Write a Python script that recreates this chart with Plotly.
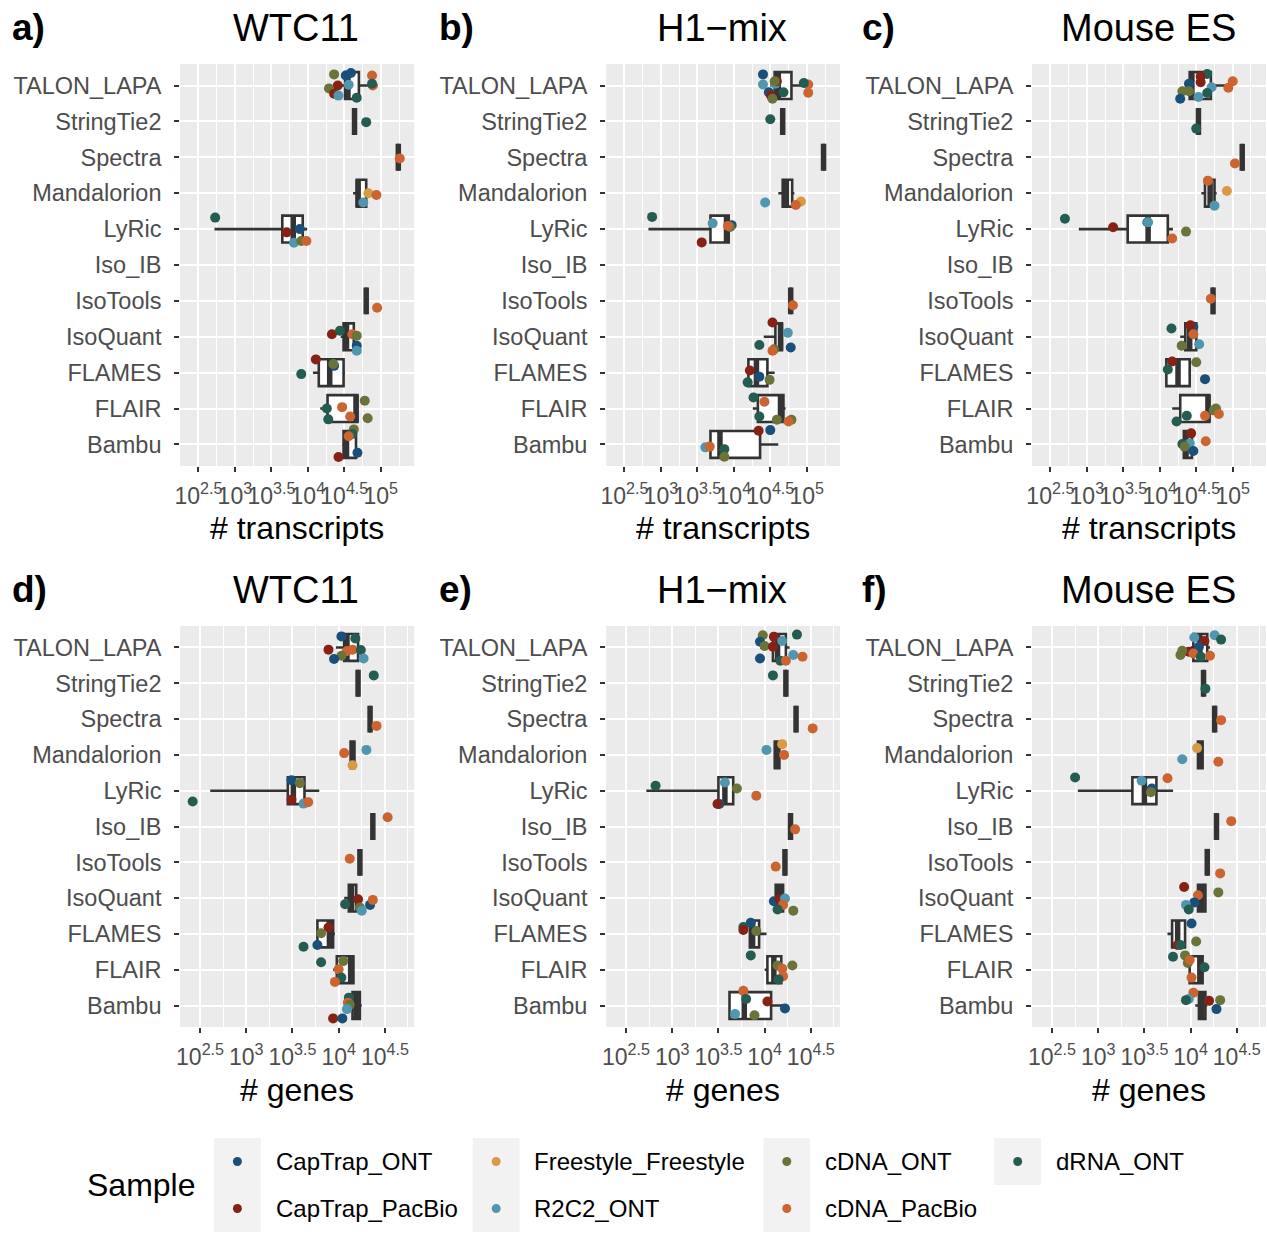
import plotly.graph_objects as go

# Methods from bottom (position 1) to top (position 11)
METHODS = ["Bambu", "FLAIR", "FLAMES", "IsoQuant", "IsoTools", "Iso_IB",
           "LyRic", "Mandalorion", "Spectra", "StringTie2", "TALON_LAPA"]

SAMPLES = ["CapTrap_ONT", "CapTrap_PacBio", "Freestyle_Freestyle", "R2C2_ONT",
           "cDNA_ONT", "cDNA_PacBio", "dRNA_ONT"]
SAMPLE_COLORS = ["#1A4F7A", "#852215", "#D89A45", "#5096AE",
                 "#6A7339", "#CB6430", "#245C52"]

# ---------------------------------------------------------------- WTC11, transcripts
wtc11_tx = [  # (method, sample, log10 # transcripts)
    ("TALON_LAPA", "cDNA_ONT", 4.36), ("TALON_LAPA", "CapTrap_ONT", 4.52),
    ("TALON_LAPA", "CapTrap_ONT", 4.59), ("TALON_LAPA", "cDNA_PacBio", 4.88),
    ("TALON_LAPA", "CapTrap_PacBio", 4.41), ("TALON_LAPA", "cDNA_ONT", 4.29),
    ("TALON_LAPA", "CapTrap_PacBio", 4.36), ("TALON_LAPA", "R2C2_ONT", 4.42),
    ("TALON_LAPA", "R2C2_ONT", 4.56), ("TALON_LAPA", "dRNA_ONT", 4.67),
    ("TALON_LAPA", "cDNA_PacBio", 4.89), ("TALON_LAPA", "dRNA_ONT", 4.88),
    ("StringTie2", "dRNA_ONT", 4.80),
    ("Spectra", "cDNA_PacBio", 5.26),
    ("Mandalorion", "Freestyle_Freestyle", 4.83), ("Mandalorion", "cDNA_PacBio", 4.94),
    ("Mandalorion", "R2C2_ONT", 4.76),
    ("LyRic", "dRNA_ONT", 2.73), ("LyRic", "CapTrap_PacBio", 3.71),
    ("LyRic", "CapTrap_ONT", 3.89), ("LyRic", "R2C2_ONT", 3.81),
    ("LyRic", "cDNA_ONT", 3.91), ("LyRic", "cDNA_PacBio", 3.98),
    ("IsoTools", "cDNA_PacBio", 4.95),
    ("IsoQuant", "CapTrap_PacBio", 4.33), ("IsoQuant", "dRNA_ONT", 4.44),
    ("IsoQuant", "cDNA_PacBio", 4.61), ("IsoQuant", "cDNA_ONT", 4.67),
    ("IsoQuant", "CapTrap_ONT", 4.67), ("IsoQuant", "R2C2_ONT", 4.67),
    ("FLAMES", "CapTrap_PacBio", 4.11), ("FLAMES", "CapTrap_ONT", 4.36),
    ("FLAMES", "cDNA_ONT", 4.35), ("FLAMES", "dRNA_ONT", 3.91),
    ("FLAIR", "cDNA_ONT", 4.78), ("FLAIR", "dRNA_ONT", 4.26),
    ("FLAIR", "cDNA_PacBio", 4.47), ("FLAIR", "cDNA_PacBio", 4.58),
    ("FLAIR", "dRNA_ONT", 4.28), ("FLAIR", "cDNA_ONT", 4.82),
    ("Bambu", "cDNA_ONT", 4.63), ("Bambu", "dRNA_ONT", 4.61),
    ("Bambu", "cDNA_PacBio", 4.56), ("Bambu", "CapTrap_ONT", 4.68),
    ("Bambu", "CapTrap_PacBio", 4.42),
]
wtc11_tx_jitter = [0.31, 0.28, 0.35, 0.28, 0.0, -0.08, -0.23, -0.28, 0.02, -0.34, 0.0, 0.05,
                   -0.02,
                   -0.03,
                   0.0, -0.05, -0.26,
                   0.32, -0.09, 0.0, -0.38, -0.33, -0.33,
                   -0.19,
                   0.07, 0.17, 0.07, 0.03, -0.25, -0.39,
                   0.37, 0.19, 0.24, -0.04,
                   0.22, 0.0, 0.04, -0.22, -0.30, -0.27,
                   0.42, 0.29, 0.23, -0.23, -0.35]
wtc11_tx_box = [  # (method, lower whisker, q1, median, q3, upper whisker), log10
    ("TALON_LAPA", 4.40, 4.51, 4.55, 4.70, 4.96),
    ("StringTie2", 4.64, 4.64, 4.64, 4.64, 4.64),
    ("Spectra", 5.24, 5.24, 5.24, 5.24, 5.24),
    ("Mandalorion", 4.62, 4.67, 4.69, 4.80, 4.80),
    ("LyRic", 2.72, 3.65, 3.80, 3.93, 3.99),
    ("IsoTools", 4.80, 4.80, 4.80, 4.80, 4.80),
    ("IsoQuant", 4.45, 4.49, 4.53, 4.63, 4.66),
    ("FLAMES", 4.07, 4.15, 4.30, 4.49, 4.51),
    ("FLAIR", 4.17, 4.27, 4.66, 4.68, 4.68),
    ("Bambu", 4.47, 4.49, 4.53, 4.66, 4.66),
]

# ---------------------------------------------------------------- H1-mix, transcripts
h1_tx = [
    ("TALON_LAPA", "CapTrap_ONT", 4.40), ("TALON_LAPA", "R2C2_ONT", 4.40),
    ("TALON_LAPA", "R2C2_ONT", 4.57), ("TALON_LAPA", "CapTrap_PacBio", 4.59),
    ("TALON_LAPA", "cDNA_ONT", 4.56), ("TALON_LAPA", "CapTrap_ONT", 4.48),
    ("TALON_LAPA", "CapTrap_PacBio", 4.51), ("TALON_LAPA", "cDNA_ONT", 4.53),
    ("TALON_LAPA", "dRNA_ONT", 4.68), ("TALON_LAPA", "cDNA_PacBio", 5.02),
    ("TALON_LAPA", "dRNA_ONT", 4.96), ("TALON_LAPA", "cDNA_PacBio", 5.02),
    ("StringTie2", "dRNA_ONT", 4.50),
    ("Mandalorion", "R2C2_ONT", 4.43), ("Mandalorion", "Freestyle_Freestyle", 4.92),
    ("Mandalorion", "cDNA_PacBio", 4.85),
    ("LyRic", "dRNA_ONT", 2.88), ("LyRic", "R2C2_ONT", 3.71),
    ("LyRic", "CapTrap_ONT", 3.97), ("LyRic", "cDNA_ONT", 3.95),
    ("LyRic", "cDNA_PacBio", 3.92), ("LyRic", "CapTrap_PacBio", 3.56),
    ("IsoTools", "cDNA_PacBio", 4.81),
    ("IsoQuant", "CapTrap_PacBio", 4.53), ("IsoQuant", "R2C2_ONT", 4.74),
    ("IsoQuant", "dRNA_ONT", 4.35), ("IsoQuant", "CapTrap_ONT", 4.78),
    ("IsoQuant", "cDNA_ONT", 4.55), ("IsoQuant", "cDNA_PacBio", 4.53),
    ("FLAMES", "CapTrap_PacBio", 4.22), ("FLAMES", "CapTrap_ONT", 4.35),
    ("FLAMES", "dRNA_ONT", 4.19), ("FLAMES", "cDNA_ONT", 4.49),
    ("FLAIR", "dRNA_ONT", 4.27), ("FLAIR", "cDNA_PacBio", 4.42),
    ("FLAIR", "dRNA_ONT", 4.35), ("FLAIR", "cDNA_ONT", 4.59),
    ("FLAIR", "cDNA_ONT", 4.79), ("FLAIR", "cDNA_PacBio", 4.75),
    ("Bambu", "CapTrap_PacBio", 4.34), ("Bambu", "CapTrap_ONT", 4.50),
    ("Bambu", "R2C2_ONT", 3.61), ("Bambu", "cDNA_PacBio", 3.67),
    ("Bambu", "dRNA_ONT", 3.87), ("Bambu", "cDNA_ONT", 3.87),
]
h1_tx_jitter = [0.31, 0.03, 0.05, 0.12, 0.12, -0.19, -0.28, -0.37, -0.19, 0.03, 0.07, -0.20,
                0.06,
                -0.26, -0.23, -0.33,
                0.34, 0.16, 0.11, 0.06, 0.09, -0.37,
                -0.12,
                0.40, 0.11, -0.23, -0.30, -0.35, -0.39,
                0.06, -0.11, -0.27, -0.20,
                0.31, 0.19, -0.22, -0.31, -0.31, -0.36,
                0.38, 0.40, -0.08, -0.06, -0.13, -0.34]
h1_tx_box = [
    ("TALON_LAPA", 4.50, 4.56, 4.61, 4.79, 4.96),
    ("StringTie2", 4.67, 4.67, 4.67, 4.67, 4.67),
    ("Spectra", 5.23, 5.23, 5.23, 5.23, 5.23),
    ("Mandalorion", 4.61, 4.67, 4.72, 4.80, 4.83),
    ("LyRic", 2.83, 3.68, 3.90, 3.93, 3.93),
    ("IsoTools", 4.78, 4.78, 4.78, 4.78, 4.78),
    ("IsoQuant", 4.41, 4.57, 4.64, 4.66, 4.66),
    ("FLAMES", 4.20, 4.20, 4.31, 4.46, 4.56),
    ("FLAIR", 4.26, 4.33, 4.64, 4.68, 4.71),
    ("Bambu", 3.68, 3.68, 3.81, 4.36, 4.61),
]

# ---------------------------------------------------------------- Mouse ES, transcripts
mouse_tx = [
    ("TALON_LAPA", "dRNA_ONT", 4.65), ("TALON_LAPA", "CapTrap_PacBio", 4.56),
    ("TALON_LAPA", "CapTrap_PacBio", 4.56), ("TALON_LAPA", "CapTrap_ONT", 4.40),
    ("TALON_LAPA", "R2C2_ONT", 4.71), ("TALON_LAPA", "cDNA_ONT", 4.31),
    ("TALON_LAPA", "cDNA_ONT", 4.40), ("TALON_LAPA", "CapTrap_ONT", 4.28),
    ("TALON_LAPA", "R2C2_ONT", 4.53), ("TALON_LAPA", "dRNA_ONT", 4.65),
    ("TALON_LAPA", "cDNA_PacBio", 5.00), ("TALON_LAPA", "cDNA_PacBio", 4.94),
    ("StringTie2", "dRNA_ONT", 4.50),
    ("Spectra", "cDNA_PacBio", 5.03),
    ("Mandalorion", "cDNA_PacBio", 4.66), ("Mandalorion", "Freestyle_Freestyle", 4.92),
    ("Mandalorion", "R2C2_ONT", 4.75),
    ("LyRic", "dRNA_ONT", 2.70), ("LyRic", "CapTrap_PacBio", 3.36),
    ("LyRic", "CapTrap_ONT", 3.83), ("LyRic", "R2C2_ONT", 3.84),
    ("LyRic", "cDNA_ONT", 4.36), ("LyRic", "cDNA_PacBio", 4.17),
    ("IsoTools", "cDNA_PacBio", 4.70),
    ("IsoQuant", "dRNA_ONT", 4.16), ("IsoQuant", "CapTrap_ONT", 4.46),
    ("IsoQuant", "CapTrap_PacBio", 4.42), ("IsoQuant", "cDNA_PacBio", 4.46),
    ("IsoQuant", "cDNA_ONT", 4.30), ("IsoQuant", "R2C2_ONT", 4.54),
    ("FLAMES", "CapTrap_PacBio", 4.17), ("FLAMES", "dRNA_ONT", 4.11),
    ("FLAMES", "cDNA_ONT", 4.50), ("FLAMES", "CapTrap_ONT", 4.62),
    ("FLAIR", "cDNA_ONT", 4.77), ("FLAIR", "cDNA_ONT", 4.74),
    ("FLAIR", "cDNA_PacBio", 4.81), ("FLAIR", "cDNA_PacBio", 4.62),
    ("FLAIR", "dRNA_ONT", 4.37), ("FLAIR", "dRNA_ONT", 4.23),
    ("Bambu", "CapTrap_PacBio", 4.43), ("Bambu", "R2C2_ONT", 4.41),
    ("Bambu", "dRNA_ONT", 4.31), ("Bambu", "cDNA_ONT", 4.34),
    ("Bambu", "CapTrap_ONT", 4.46), ("Bambu", "cDNA_PacBio", 4.63),
]
mouse_tx_jitter = [0.32, 0.25, 0.09, 0.05, -0.05, -0.16, -0.16, -0.37, -0.32, -0.21, 0.12, -0.06,
                   -0.20,
                   -0.17,
                   0.35, 0.06, -0.35,
                   0.29, 0.05, 0.19, 0.19, -0.07, -0.26,
                   0.06,
                   0.23, 0.28, 0.32, 0.07, -0.25, -0.21,
                   0.31, 0.09, 0.29, -0.18,
                   0.0, -0.05, -0.15, -0.20, -0.20, -0.36,
                   0.31, 0.03, 0.01, -0.06, -0.18, 0.09]
mouse_tx_box = [
    ("TALON_LAPA", 4.39, 4.41, 4.44, 4.70, 4.90),
    ("StringTie2", 4.53, 4.53, 4.53, 4.53, 4.53),
    ("Spectra", 5.13, 5.13, 5.13, 5.13, 5.13),
    ("Mandalorion", 4.57, 4.62, 4.69, 4.75, 4.78),
    ("LyRic", 2.89, 3.56, 3.84, 4.11, 4.18),
    ("IsoTools", 4.73, 4.73, 4.73, 4.73, 4.73),
    ("IsoQuant", 4.28, 4.35, 4.41, 4.50, 4.50),
    ("FLAMES", 4.09, 4.09, 4.25, 4.41, 4.41),
    ("FLAIR", 4.17, 4.28, 4.66, 4.68, 4.68),
    ("Bambu", 4.33, 4.33, 4.36, 4.44, 4.44),
]

# ---------------------------------------------------------------- WTC11, genes
wtc11_gene = [
    ("TALON_LAPA", "CapTrap_ONT", 4.03), ("TALON_LAPA", "dRNA_ONT", 4.18),
    ("TALON_LAPA", "CapTrap_PacBio", 3.89), ("TALON_LAPA", "cDNA_PacBio", 4.09),
    ("TALON_LAPA", "cDNA_PacBio", 4.15), ("TALON_LAPA", "cDNA_ONT", 4.03),
    ("TALON_LAPA", "dRNA_ONT", 4.24), ("TALON_LAPA", "CapTrap_ONT", 3.95),
    ("TALON_LAPA", "R2C2_ONT", 4.27),
    ("StringTie2", "dRNA_ONT", 4.38),
    ("Spectra", "cDNA_PacBio", 4.41),
    ("Mandalorion", "cDNA_PacBio", 4.06), ("Mandalorion", "R2C2_ONT", 4.30),
    ("Mandalorion", "Freestyle_Freestyle", 4.15),
    ("LyRic", "CapTrap_ONT", 3.49), ("LyRic", "cDNA_ONT", 3.58),
    ("LyRic", "CapTrap_PacBio", 3.49), ("LyRic", "R2C2_ONT", 3.62),
    ("LyRic", "cDNA_PacBio", 3.67), ("LyRic", "dRNA_ONT", 2.42),
    ("Iso_IB", "cDNA_PacBio", 4.53),
    ("IsoTools", "cDNA_PacBio", 4.12),
    ("IsoQuant", "CapTrap_PacBio", 4.21), ("IsoQuant", "dRNA_ONT", 4.07),
    ("IsoQuant", "cDNA_ONT", 4.23), ("IsoQuant", "CapTrap_ONT", 4.34),
    ("IsoQuant", "cDNA_PacBio", 4.37), ("IsoQuant", "R2C2_ONT", 4.25),
    ("FLAMES", "CapTrap_PacBio", 3.89), ("FLAMES", "cDNA_ONT", 3.81),
    ("FLAMES", "CapTrap_ONT", 3.77), ("FLAMES", "dRNA_ONT", 3.62),
    ("FLAIR", "dRNA_ONT", 3.81), ("FLAIR", "cDNA_ONT", 4.05),
    ("FLAIR", "cDNA_PacBio", 4.00), ("FLAIR", "dRNA_ONT", 4.03),
    ("FLAIR", "cDNA_PacBio", 3.96),
    ("Bambu", "dRNA_ONT", 4.11), ("Bambu", "cDNA_PacBio", 4.10),
    ("Bambu", "cDNA_ONT", 4.12), ("Bambu", "R2C2_ONT", 4.09),
    ("Bambu", "CapTrap_PacBio", 3.94), ("Bambu", "CapTrap_ONT", 4.04),
]
wtc11_gene_jitter = [0.31, 0.25, -0.06, -0.10, -0.06, -0.23, -0.07, -0.32, -0.31,
                     0.22,
                     -0.19,
                     0.05, 0.14, -0.29,
                     0.29, 0.21, -0.25, -0.36, -0.32, -0.30,
                     0.26,
                     0.10,
                     -0.03, -0.17, -0.26, -0.19, -0.05, -0.35,
                     0.18, 0.02, -0.31, -0.36,
                     0.21, 0.24, 0.01, -0.22, -0.34,
                     0.22, 0.08, 0.02, -0.10, -0.36, -0.36]
wtc11_gene_box = [
    ("TALON_LAPA", 3.97, 4.06, 4.09, 4.21, 4.21),
    ("StringTie2", 4.21, 4.21, 4.21, 4.21, 4.21),
    ("Spectra", 4.34, 4.34, 4.34, 4.34, 4.34),
    ("Mandalorion", 4.13, 4.13, 4.15, 4.17, 4.17),
    ("LyRic", 2.61, 3.45, 3.51, 3.63, 3.79),
    ("Iso_IB", 4.37, 4.37, 4.37, 4.37, 4.37),
    ("IsoTools", 4.23, 4.23, 4.23, 4.23, 4.23),
    ("IsoQuant", 4.06, 4.11, 4.14, 4.19, 4.19),
    ("FLAMES", 3.77, 3.77, 3.90, 3.94, 3.96),
    ("FLAIR", 3.94, 3.98, 4.13, 4.16, 4.16),
    ("Bambu", 4.12, 4.15, 4.19, 4.23, 4.25),
]

# ---------------------------------------------------------------- H1-mix, genes
h1_gene = [
    ("TALON_LAPA", "cDNA_ONT", 3.98), ("TALON_LAPA", "CapTrap_PacBio", 4.10),
    ("TALON_LAPA", "CapTrap_ONT", 3.95), ("TALON_LAPA", "cDNA_ONT", 4.00),
    ("TALON_LAPA", "CapTrap_PacBio", 4.09), ("TALON_LAPA", "R2C2_ONT", 4.19),
    ("TALON_LAPA", "dRNA_ONT", 4.35), ("TALON_LAPA", "CapTrap_ONT", 3.95),
    ("TALON_LAPA", "dRNA_ONT", 4.17), ("TALON_LAPA", "cDNA_PacBio", 4.23),
    ("TALON_LAPA", "R2C2_ONT", 4.31), ("TALON_LAPA", "cDNA_PacBio", 4.41),
    ("StringTie2", "dRNA_ONT", 4.09),
    ("Spectra", "cDNA_PacBio", 4.52),
    ("Mandalorion", "Freestyle_Freestyle", 4.19), ("Mandalorion", "R2C2_ONT", 4.02),
    ("Mandalorion", "cDNA_PacBio", 4.21),
    ("LyRic", "dRNA_ONT", 2.82), ("LyRic", "R2C2_ONT", 3.57),
    ("LyRic", "cDNA_ONT", 3.70), ("LyRic", "cDNA_PacBio", 3.91),
    ("LyRic", "CapTrap_ONT", 3.51), ("LyRic", "CapTrap_PacBio", 3.49),
    ("Iso_IB", "cDNA_PacBio", 4.33),
    ("IsoTools", "cDNA_PacBio", 4.12),
    ("IsoQuant", "CapTrap_ONT", 4.10), ("IsoQuant", "CapTrap_PacBio", 4.16),
    ("IsoQuant", "R2C2_ONT", 4.22), ("IsoQuant", "cDNA_PacBio", 4.20),
    ("IsoQuant", "dRNA_ONT", 4.14), ("IsoQuant", "cDNA_ONT", 4.31),
    ("FLAMES", "CapTrap_ONT", 3.85), ("FLAMES", "dRNA_ONT", 3.77),
    ("FLAMES", "CapTrap_PacBio", 3.77), ("FLAMES", "cDNA_ONT", 3.91),
    ("FLAIR", "dRNA_ONT", 3.85), ("FLAIR", "cDNA_ONT", 4.14),
    ("FLAIR", "cDNA_ONT", 4.30), ("FLAIR", "cDNA_PacBio", 4.19),
    ("FLAIR", "cDNA_PacBio", 4.20), ("FLAIR", "dRNA_ONT", 4.15),
    ("Bambu", "cDNA_PacBio", 3.77), ("Bambu", "dRNA_ONT", 3.80),
    ("Bambu", "CapTrap_PacBio", 4.03), ("Bambu", "CapTrap_ONT", 4.22),
    ("Bambu", "R2C2_ONT", 3.68), ("Bambu", "cDNA_ONT", 3.89),
]
h1_gene_jitter = [0.34, 0.30, 0.16, 0.04, 0.02, 0.18, 0.36, -0.31, -0.37, -0.37, -0.21, -0.26,
                  0.22,
                  -0.26,
                  0.30, 0.14, 0.0,
                  0.14, 0.23, 0.06, -0.14, -0.37, -0.37,
                  -0.08,
                  -0.12,
                  -0.09, -0.03, -0.01, -0.19, -0.32, -0.35,
                  0.31, 0.19, 0.11, 0.08,
                  0.40, 0.12, 0.12, 0.03, -0.18, -0.27,
                  0.41, 0.18, 0.11, -0.08, -0.24, -0.27]
h1_gene_box = [
    ("TALON_LAPA", 3.95, 4.09, 4.14, 4.23, 4.27),
    ("StringTie2", 4.23, 4.23, 4.23, 4.23, 4.23),
    ("Spectra", 4.34, 4.34, 4.34, 4.34, 4.34),
    ("Mandalorion", 4.11, 4.11, 4.13, 4.16, 4.16),
    ("LyRic", 2.72, 3.50, 3.57, 3.66, 3.66),
    ("Iso_IB", 4.28, 4.28, 4.28, 4.28, 4.28),
    ("IsoTools", 4.22, 4.22, 4.22, 4.22, 4.22),
    ("IsoQuant", 4.12, 4.12, 4.16, 4.20, 4.20),
    ("FLAMES", 3.84, 3.84, 3.87, 3.94, 4.02),
    ("FLAIR", 4.00, 4.03, 4.10, 4.18, 4.18),
    ("Bambu", 3.62, 3.62, 3.78, 4.07, 4.22),
]

# ---------------------------------------------------------------- Mouse ES, genes
mouse_gene = [
    ("TALON_LAPA", "R2C2_ONT", 4.04), ("TALON_LAPA", "R2C2_ONT", 4.26),
    ("TALON_LAPA", "dRNA_ONT", 4.33), ("TALON_LAPA", "CapTrap_PacBio", 4.15),
    ("TALON_LAPA", "CapTrap_ONT", 4.09), ("TALON_LAPA", "CapTrap_PacBio", 3.98),
    ("TALON_LAPA", "cDNA_ONT", 3.91), ("TALON_LAPA", "cDNA_ONT", 3.89),
    ("TALON_LAPA", "cDNA_PacBio", 4.03), ("TALON_LAPA", "dRNA_ONT", 4.11),
    ("TALON_LAPA", "cDNA_PacBio", 4.21),
    ("StringTie2", "dRNA_ONT", 4.16),
    ("Spectra", "cDNA_PacBio", 4.33),
    ("Mandalorion", "Freestyle_Freestyle", 4.07), ("Mandalorion", "R2C2_ONT", 3.91),
    ("Mandalorion", "cDNA_PacBio", 4.30),
    ("LyRic", "dRNA_ONT", 2.75), ("LyRic", "R2C2_ONT", 3.47),
    ("LyRic", "CapTrap_ONT", 3.58), ("LyRic", "cDNA_ONT", 3.57),
    ("LyRic", "cDNA_PacBio", 3.75),
    ("Iso_IB", "cDNA_PacBio", 4.44),
    ("IsoTools", "cDNA_PacBio", 4.32),
    ("IsoQuant", "CapTrap_PacBio", 3.93), ("IsoQuant", "cDNA_PacBio", 4.08),
    ("IsoQuant", "cDNA_ONT", 4.30), ("IsoQuant", "CapTrap_ONT", 4.04),
    ("IsoQuant", "R2C2_ONT", 3.95), ("IsoQuant", "dRNA_ONT", 3.98),
    ("FLAMES", "CapTrap_ONT", 4.01), ("FLAMES", "CapTrap_PacBio", 3.86),
    ("FLAMES", "dRNA_ONT", 3.89), ("FLAMES", "cDNA_ONT", 4.06),
    ("FLAIR", "dRNA_ONT", 3.81), ("FLAIR", "cDNA_ONT", 3.94),
    ("FLAIR", "cDNA_ONT", 3.97), ("FLAIR", "cDNA_PacBio", 3.99),
    ("FLAIR", "dRNA_ONT", 4.15), ("FLAIR", "cDNA_PacBio", 4.01),
    ("Bambu", "cDNA_PacBio", 4.03), ("Bambu", "R2C2_ONT", 3.98),
    ("Bambu", "dRNA_ONT", 3.95), ("Bambu", "CapTrap_PacBio", 4.20),
    ("Bambu", "cDNA_ONT", 4.32), ("Bambu", "CapTrap_ONT", 4.28),
]
mouse_gene_jitter = [0.28, 0.34, 0.22, 0.18, 0.02, -0.12, -0.09, -0.21, -0.17, -0.26, -0.23,
                     -0.15,
                     -0.03,
                     0.19, -0.12, -0.19,
                     0.37, 0.28, 0.06, -0.04, 0.35,
                     0.15,
                     -0.31,
                     0.31, 0.08, 0.16, -0.12, -0.19, -0.32,
                     0.29, -0.31, -0.31, -0.21,
                     0.36, 0.40, 0.19, 0.27, 0.07, -0.22,
                     0.36, 0.18, 0.15, 0.13, 0.15, -0.10]
mouse_gene_box = [
    ("TALON_LAPA", 4.00, 4.03, 4.10, 4.18, 4.21),
    ("StringTie2", 4.14, 4.14, 4.14, 4.14, 4.14),
    ("Spectra", 4.26, 4.26, 4.26, 4.26, 4.26),
    ("Mandalorion", 4.08, 4.08, 4.10, 4.13, 4.13),
    ("LyRic", 2.78, 3.37, 3.50, 3.63, 3.81),
    ("Iso_IB", 4.28, 4.28, 4.28, 4.28, 4.28),
    ("IsoTools", 4.18, 4.18, 4.18, 4.18, 4.18),
    ("IsoQuant", 4.08, 4.08, 4.12, 4.16, 4.16),
    ("FLAMES", 3.75, 3.80, 3.86, 3.94, 3.94),
    ("FLAIR", 3.99, 3.99, 4.10, 4.13, 4.13),
    ("Bambu", 4.05, 4.09, 4.12, 4.16, 4.18),
]

TX_TICKS = [2.5, 3, 3.5, 4, 4.5, 5]
GENE_TICKS = [2.5, 3, 3.5, 4, 4.5]

# ---------------------------------------------------------------- layout geometry
W, H = 1267, 1236
BOX_WIDTH = 0.75
FONT = "Liberation Sans"
INK = "#333333"


def fx(px):
    return px / W


def fy(py):
    return 1 - py / H


COL_X = [(175, 410), (603, 838), (1031, 1266)]
ROW_Y = [(64, 466), (626, 1027)]
ROW_RANGE = [(2.25, 5.456), (2.285, 4.816)]

panels = [
    (wtc11_tx, wtc11_tx_jitter, wtc11_tx_box, "a)", "WTC11", "# transcripts", 0, 0, TX_TICKS),
    (h1_tx, h1_tx_jitter, h1_tx_box, "b)", "H1\u2212mix", "# transcripts", 0, 1, TX_TICKS),
    (mouse_tx, mouse_tx_jitter, mouse_tx_box, "c)", "Mouse ES", "# transcripts", 0, 2, TX_TICKS),
    (wtc11_gene, wtc11_gene_jitter, wtc11_gene_box, "d)", "WTC11", "# genes", 1, 0, GENE_TICKS),
    (h1_gene, h1_gene_jitter, h1_gene_box, "e)", "H1\u2212mix", "# genes", 1, 1, GENE_TICKS),
    (mouse_gene, mouse_gene_jitter, mouse_gene_box, "f)", "Mouse ES", "# genes", 1, 2, GENE_TICKS),
]

pos = {m: i + 1 for i, m in enumerate(METHODS)}
color_of = dict(zip(SAMPLES, SAMPLE_COLORS))

fig = go.Figure()
annotations = []
shapes = []
layout = {}

for k, (pts, jit, boxes, letter, title, xtitle, row, col, ticks) in enumerate(panels):
    n = "" if k == 0 else str(k + 1)
    xa, ya = "x" + n, "y" + n
    x0, x1 = COL_X[col]
    y0, y1 = ROW_Y[row]
    lo, hi = ROW_RANGE[row]

    # boxes (whiskers without caps)
    fig.add_trace(go.Box(
        y=[pos[b[0]] for b in boxes],
        lowerfence=[10 ** b[1] for b in boxes],
        q1=[10 ** b[2] for b in boxes],
        median=[10 ** b[3] for b in boxes],
        q3=[10 ** b[4] for b in boxes],
        upperfence=[10 ** b[5] for b in boxes],
        orientation="h", width=BOX_WIDTH, boxpoints=False, whiskerwidth=0,
        fillcolor="white", line=dict(color=INK, width=2.6),
        xaxis=xa, yaxis=ya, hoverinfo="skip", showlegend=False,
    ))

    # thicker median segments
    mx, my = [], []
    for b in boxes:
        mx += [10 ** b[3], 10 ** b[3], None]
        my += [pos[b[0]] - BOX_WIDTH / 2, pos[b[0]] + BOX_WIDTH / 2, None]
    fig.add_trace(go.Scatter(
        x=mx, y=my, mode="lines", line=dict(color=INK, width=5.5),
        xaxis=xa, yaxis=ya, hoverinfo="skip", showlegend=False,
    ))

    # sample points
    fig.add_trace(go.Scatter(
        x=[10 ** p[2] for p in pts],
        y=[pos[p[0]] + j for p, j in zip(pts, jit)],
        mode="markers",
        marker=dict(size=10, color=[color_of[p[1]] for p in pts], line=dict(width=0)),
        text=[p[1] for p in pts],
        xaxis=xa, yaxis=ya, showlegend=False,
    ))

    minor = [t + 0.25 for t in [ticks[0] - 0.5] + ticks]
    layout["xaxis" + n] = dict(
        type="log", domain=[fx(x0), fx(x1)], range=[lo, hi], anchor=ya,
        tickmode="array", tickvals=[10 ** t for t in ticks],
        ticktext=["10<sup>%g</sup>" % t for t in ticks], tickangle=0,
        ticks="outside", ticklen=5, tickwidth=2, tickcolor=INK, ticklabelstandoff=4,
        tickfont=dict(size=23, color="#4D4D4D", family=FONT),
        showgrid=True, gridcolor="white", gridwidth=2.4, zeroline=False, showline=False,
        minor=dict(tickmode="array", tickvals=[10 ** t for t in minor],
                   showgrid=True, gridcolor="white", gridwidth=1.2, ticks=""),
    )
    layout["yaxis" + n] = dict(
        domain=[fy(y1), fy(y0)], range=[0.4, 11.6], anchor=xa,
        tickmode="array", tickvals=list(range(1, len(METHODS) + 1)), ticktext=METHODS,
        ticks="outside", ticklen=5, tickwidth=2, tickcolor=INK, ticklabelstandoff=8,
        tickfont=dict(size=23.5, color="#4D4D4D", family=FONT),
        showgrid=True, gridcolor="white", gridwidth=2.4, zeroline=False, showline=False,
    )

    # letter, title, axis title
    title_y = [28, 590][row]
    annotations.append(dict(text="<b>%s</b>" % letter, x=fx([4, 433, 858][col]), y=fy(title_y),
                            xref="paper", yref="paper", xanchor="left", yanchor="middle",
                            showarrow=False, font=dict(size=37, color="black", family=FONT)))
    annotations.append(dict(text=title, x=fx((x0 + x1) / 2 - 1), y=fy(title_y),
                            xref="paper", yref="paper", xanchor="center", yanchor="middle",
                            showarrow=False, font=dict(size=38, color="black", family=FONT)))
    annotations.append(dict(text=xtitle, x=fx((x0 + x1) / 2), y=fy([528, 1090][row]),
                            xref="paper", yref="paper", xanchor="center", yanchor="middle",
                            showarrow=False, font=dict(size=32, color="black", family=FONT)))

# ---------------------------------------------------------------- legend
annotations.append(dict(text="Sample", x=fx(79), y=fy(1185), xref="paper", yref="paper",
                        xanchor="left", yanchor="middle", showarrow=False,
                        font=dict(size=32, color="black", family=FONT)))
KEY_LEFT = [209, 469, 761, 993]
KEY_TOP = [1138, 1185]
KEY = 47
DOT = 9
for i, (s, c) in enumerate(zip(SAMPLES, SAMPLE_COLORS)):
    kx, ky = KEY_LEFT[i // 2], KEY_TOP[i % 2]
    shapes.append(dict(type="rect", xref="paper", yref="paper",
                       x0=fx(kx), x1=fx(kx + KEY), y0=fy(ky + KEY), y1=fy(ky),
                       fillcolor="#F2F2F2", line=dict(width=0), layer="below"))
    cx, cy = kx + KEY / 2, ky + KEY / 2
    shapes.append(dict(type="circle", xref="paper", yref="paper",
                       x0=fx(cx - DOT / 2), x1=fx(cx + DOT / 2),
                       y0=fy(cy + DOT / 2), y1=fy(cy - DOT / 2),
                       fillcolor=c, line=dict(width=0)))
    annotations.append(dict(text=s, x=fx(kx + 60), y=fy(cy), xref="paper", yref="paper",
                            xanchor="left", yanchor="middle", showarrow=False,
                            font=dict(size=24, color="black", family=FONT)))

fig.update_layout(
    width=W, height=H, margin=dict(l=0, r=0, t=0, b=0),
    paper_bgcolor="white", plot_bgcolor="#EBEBEB",
    font=dict(family=FONT, color="black"),
    showlegend=False, boxmode="overlay",
    annotations=annotations, shapes=shapes,
    **layout,
)

fig.write_html("out.html")
